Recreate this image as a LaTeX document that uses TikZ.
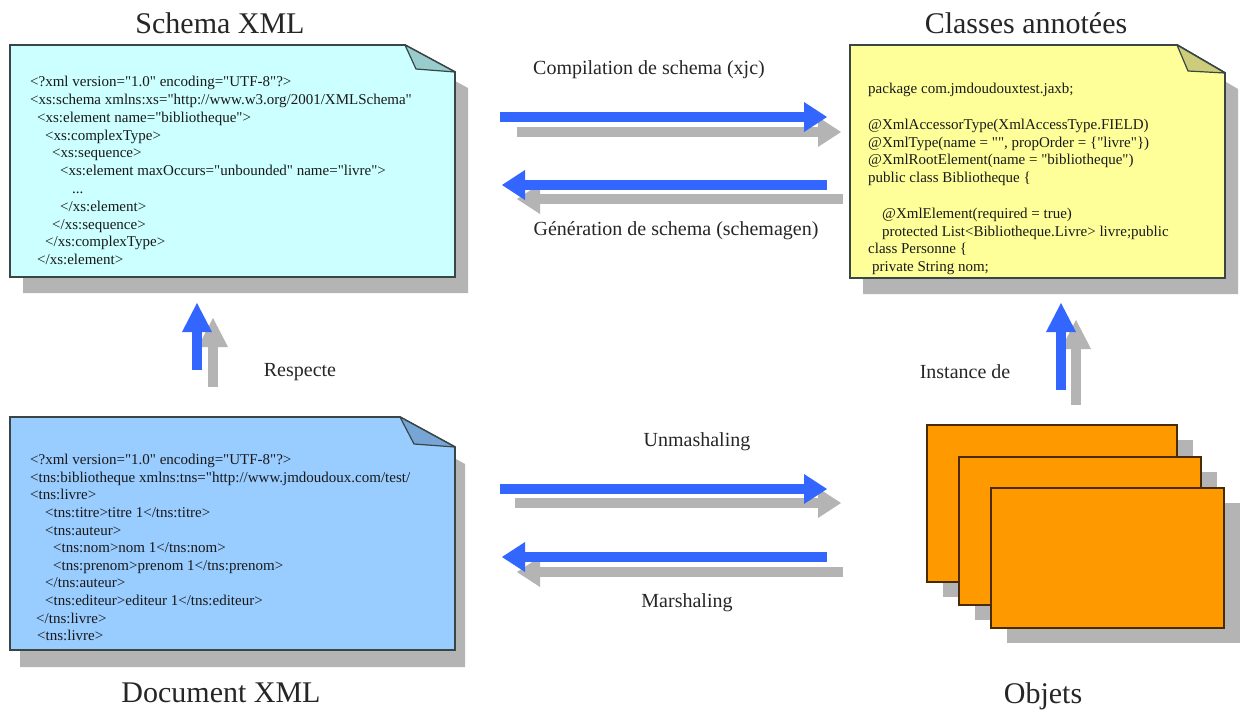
\documentclass[tikz,border=0pt]{standalone}
\usepackage{fontspec}
\setmainfont{Liberation Serif}
\newfontfamily\codefamily{Liberation Serif}[Ligatures=TeXOff]
\usetikzlibrary{arrows.meta}
\definecolor{schemafill}{HTML}{CCFFFF}
\definecolor{schemafold}{HTML}{99CCCC}
\definecolor{classfill}{HTML}{FFFF99}
\definecolor{classfold}{HTML}{CCCC7A}
\definecolor{docfill}{HTML}{99CCFF}
\definecolor{docfold}{HTML}{77A5D5}
\definecolor{boxborder}{HTML}{3A4545}
\definecolor{shadowgray}{HTML}{B4B4B4}
\definecolor{arrowblue}{HTML}{3366FF}
\definecolor{objfill}{HTML}{FF9900}
\definecolor{objborder}{HTML}{4A2A00}
\begin{document}
\begin{tikzpicture}[x=1pt,y=-1pt,
  boxline/.style={draw=boxborder,line width=1.8pt,line join=miter},
  shadowpart/.style={fill=shadowgray,draw=none},
  foldpart/.style={draw=boxborder,line width=1.2pt,line join=round},
  codetext/.style={font=\codefamily\fontsize{15}{17.8}\selectfont,align=left,inner sep=0pt,anchor=north west,text=black!90},
  titletext/.style={font=\fontsize{30}{36}\selectfont,inner sep=0pt,anchor=base,text=black!85},
  labeltext/.style={font=\fontsize{20}{24}\selectfont,inner sep=0pt,text=black!85},
  hblue/.style={draw=arrowblue,line width=10pt,-{Triangle[length=23pt,width=30pt,line width=0pt]}},
  hgray/.style={draw=shadowgray,line width=10pt,-{Triangle[length=23pt,width=30pt,line width=0pt]}},
  vblue/.style={draw=arrowblue,line width=10pt,-{Triangle[length=29pt,width=30pt,line width=0pt]}},
  vgray/.style={draw=shadowgray,line width=10pt,-{Triangle[length=29pt,width=30pt,line width=0pt]}},
  objrect/.style={fill=objfill,draw=objborder,line width=1.4pt},
  objshadow/.style={fill=shadowgray,draw=none}]
\useasboundingbox (0,0) rectangle (1240,718);
\fill[white] (0,0) rectangle (1240,718);

% ---------- Schema XML box ----------
\fill[shadowpart,shift={(13,16)}] (10,45) -- (405,45) -- (455,72) -- (455,277) -- (10,277) -- cycle;
\filldraw[boxline,fill=schemafill] (10,45) -- (405,45) -- (455,72) -- (455,277) -- (10,277) -- cycle;
\filldraw[foldpart,fill=schemafold] (405,45) -- (416,69) -- (455,72) -- cycle;
\node[codetext] (schemacode) at (30,76) {%
<?xml version="1.0" encoding="UTF-8"?>\\
<xs:schema xmlns:xs="http://www.w3.org/2001/XMLSchema"\\
\hspace*{7pt}<xs:element name="bibliotheque">\\
\hspace*{15pt}<xs:complexType>\\
\hspace*{22pt}<xs:sequence>\\
\hspace*{30pt}<xs:element maxOccurs="unbounded" name="livre">\\
\hspace*{42pt}...\\
\hspace*{30pt}</xs:element>\\
\hspace*{22pt}</xs:sequence>\\
\hspace*{15pt}</xs:complexType>\\
\hspace*{7pt}</xs:element>};
\node[titletext] (schematitle) at (220,33) {Schema XML};

% ---------- Classes annotees box ----------
\fill[shadowpart,shift={(13,16)}] (850,45) -- (1177,45) -- (1225,73) -- (1225,278) -- (850,278) -- cycle;
\filldraw[boxline,fill=classfill] (850,45) -- (1177,45) -- (1225,73) -- (1225,278) -- (850,278) -- cycle;
\begin{scope}
\clip (851,46) -- (1176,46) -- (1224,74) -- (1224,276) -- (851,276) -- cycle;
\node[codetext] (classcode) at (868,83) {%
package com.jmdoudouxtest.jaxb;\\
\mbox{}\\
@XmlAccessorType(XmlAccessType.FIELD)\\
@XmlType(name = "", propOrder = \{"livre"\})\\
@XmlRootElement(name = "bibliotheque")\\
public class Bibliotheque \{\\
\mbox{}\\
\hspace*{14pt}@XmlElement(required = true)\\
\hspace*{14pt}protected List<Bibliotheque.Livre> livre;public\\
class Personne \{\\
\hspace*{4pt}private String nom;};
\end{scope}
\draw[boxline] (850,45) -- (1177,45) -- (1225,73) -- (1225,278) -- (850,278) -- cycle;
\filldraw[foldpart,fill=classfold] (1177,45) -- (1188,71) -- (1225,73) -- cycle;
\node[titletext] (classtitle) at (1026,33) {Classes annotées};

% ---------- Document XML box ----------
\fill[shadowpart,shift={(10,17)}] (10,417) -- (400,417) -- (455,447) -- (455,650) -- (10,650) -- cycle;
\filldraw[boxline,fill=docfill] (10,417) -- (400,417) -- (455,447) -- (455,650) -- (10,650) -- cycle;
\filldraw[foldpart,fill=docfold] (400,417) -- (414,444) -- (455,447) -- cycle;
\node[codetext,font=\codefamily\fontsize{15}{17.6}\selectfont] (doccode) at (30,454) {%
<?xml version="1.0" encoding="UTF-8"?>\\
<tns:bibliotheque xmlns:tns="http://www.jmdoudoux.com/test/\\
<tns:livre>\\
\hspace*{15pt}<tns:titre>titre 1</tns:titre>\\
\hspace*{15pt}<tns:auteur>\\
\hspace*{23pt}<tns:nom>nom 1</tns:nom>\\
\hspace*{23pt}<tns:prenom>prenom 1</tns:prenom>\\
\hspace*{15pt}</tns:auteur>\\
\hspace*{15pt}<tns:editeur>editeur 1</tns:editeur>\\
\hspace*{6pt}</tns:livre>\\
\hspace*{7pt}<tns:livre>};
\node[titletext] (doctitle) at (221,702) {Document XML};

% ---------- Objets ----------
\fill[objshadow] (943,440) rectangle (1193,597);
\filldraw[objrect] (927,425) rectangle (1177,582);
\fill[objshadow] (975,472) rectangle (1217,620);
\filldraw[objrect] (959,457) rectangle (1201,605);
\fill[objshadow] (1007,503) rectangle (1240,643);
\filldraw[objrect] (991,488) rectangle (1224,628);
\node[titletext] (objtitle) at (1043,703) {Objets};

% ---------- Arrows ----------
\coordinate (c1s) at (500,117);  \coordinate (c1e) at (827,117);
\coordinate (c1gs) at (517,132); \coordinate (c1ge) at (841,132);
\coordinate (g1s) at (827,185);  \coordinate (g1e) at (502,185);
\coordinate (g1gs) at (843,199); \coordinate (g1ge) at (517,199);
\coordinate (u1s) at (500,489);  \coordinate (u1e) at (827,489);
\coordinate (u1gs) at (515,503); \coordinate (u1ge) at (841,503);
\coordinate (m1s) at (827,557);  \coordinate (m1e) at (502,557);
\coordinate (m1gs) at (843,572); \coordinate (m1ge) at (517,572);
\coordinate (r1s) at (197,370);  \coordinate (r1e) at (197,303);
\coordinate (r1gs) at (213,387); \coordinate (r1ge) at (213,318);
\coordinate (i1s) at (1061,390); \coordinate (i1e) at (1061,303);
\coordinate (i1gs) at (1076,405);\coordinate (i1ge) at (1076,320);

\draw[hgray] (c1gs) -- (c1ge);
\draw[hblue] (c1s) -- (c1e);
\draw[hgray] (g1gs) -- (g1ge);
\draw[hblue] (g1s) -- (g1e);
\draw[hgray] (u1gs) -- (u1ge);
\draw[hblue] (u1s) -- (u1e);
\draw[hgray] (m1gs) -- (m1ge);
\draw[hblue] (m1s) -- (m1e);
\draw[vgray] (r1gs) -- (r1ge);
\draw[vblue] (r1s) -- (r1e);
\draw[vgray] (i1gs) -- (i1ge);
\draw[vblue] (i1s) -- (i1e);

% ---------- Labels ----------
\node[labeltext] (lcomp) at (649,70) {Compilation de schema (xjc)};
\node[labeltext] (lgen) at (676,231) {Génération de schema (schemagen)};
\node[labeltext] (lunm) at (697,442) {Unmashaling};
\node[labeltext] (lmar) at (687,603) {Marshaling};
\node[labeltext] (lresp) at (300,372) {Respecte};
\node[labeltext] (linst) at (965,372) {Instance de};
\end{tikzpicture}
\end{document}
